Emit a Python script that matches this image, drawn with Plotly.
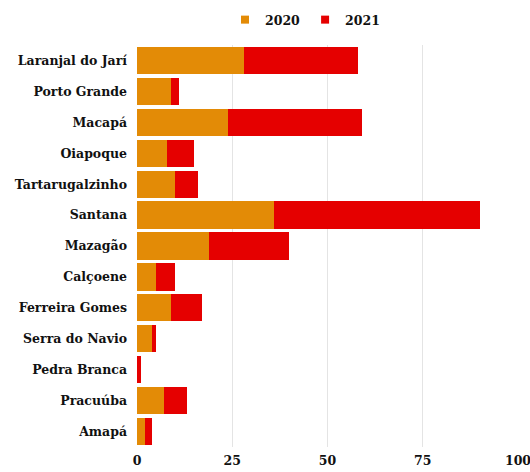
import plotly.graph_objects as go

municipios = ["Laranjal do Jarí", "Porto Grande", "Macapá", "Oiapoque", "Tartarugalzinho",
              "Santana", "Mazagão", "Calçoene", "Ferreira Gomes", "Serra do Navio",
              "Pedra Branca", "Pracuúba", "Amapá"]
v2020 = [28, 9, 24, 8, 10, 36, 19, 5, 9, 4, 0, 7, 2]
v2021 = [30, 2, 35, 7, 6, 54, 21, 5, 8, 1, 1, 6, 2]
series_names = ["2020", "2021"]
colors = ["#E38B06", "#E50000"]
tick_vals = [0, 25, 50, 75, 100]

lab_font = dict(family="DejaVu Serif", size=12.5, color="#111111", weight="bold")

fig = go.Figure()
for name, vals, col in zip(series_names, [v2020, v2021], colors):
    fig.add_trace(go.Bar(y=municipios, x=vals, name=name, orientation="h",
                         marker=dict(color=col, line=dict(width=0)),
                         showlegend=False, legendgroup=name))
    # legend entry with a small square marker
    fig.add_trace(go.Scatter(x=[None], y=[None], mode="markers", name=name,
                             legendgroup=name,
                             marker=dict(symbol="square", size=8, color=col)))

fig.update_layout(
    width=530, height=472,
    barmode="stack", bargap=0.12,
    plot_bgcolor="white", paper_bgcolor="white",
    margin=dict(l=137, r=12, t=45, b=25, autoexpand=False),
    font=lab_font,
    legend=dict(orientation="h", x=(225 - 137) / 381, xanchor="left",
                yref="container", y=1 - 20 / 472, yanchor="middle",
                font=lab_font, itemwidth=30, traceorder="normal"),
    xaxis=dict(range=[0, 100], tickvals=tick_vals, showgrid=True, gridcolor="#e4e4e4",
               zeroline=False, showline=False, ticks="", ticklabelstandoff=4,
               automargin=False, ticklabeloverflow="allow", tickfont=lab_font),
    yaxis=dict(categoryorder="array", categoryarray=municipios, autorange="reversed",
               showgrid=False, showline=False, ticks="", ticklabelstandoff=9,
               automargin=False, tickfont=lab_font),
)
fig.write_html("out.html", config={"displayModeBar": False},
               post_script="document.body.style.margin='0';document.body.style.overflow='hidden';")
